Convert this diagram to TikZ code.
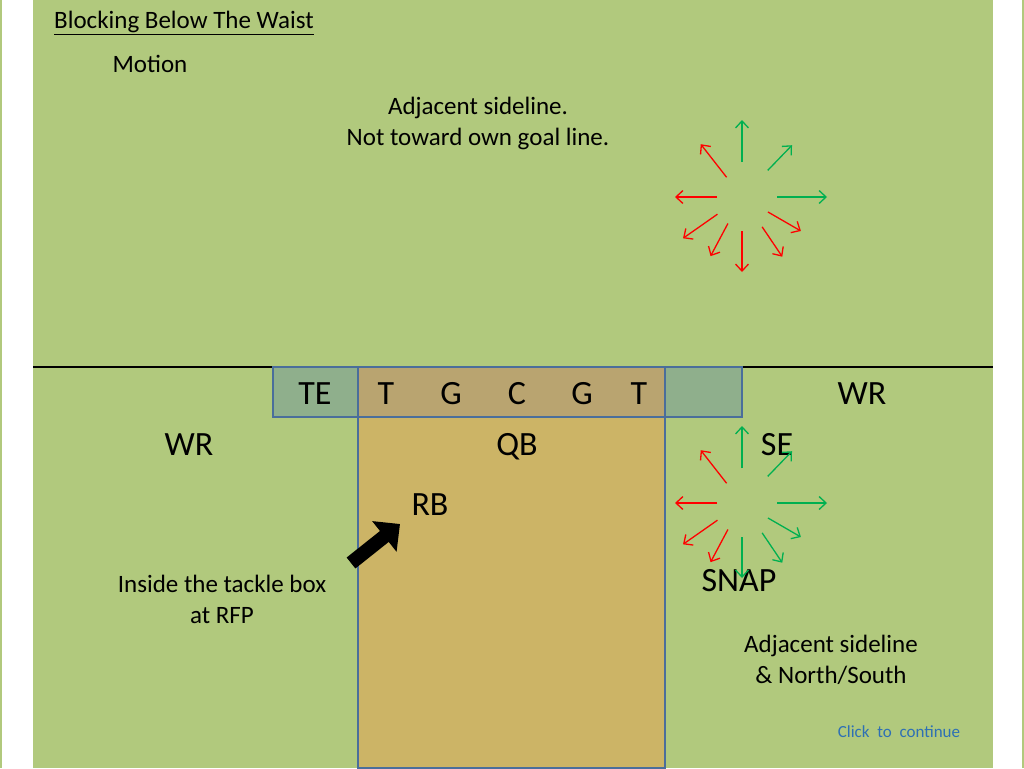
\documentclass[tikz,border=0pt]{standalone}
\usepackage{fontspec}
\setmainfont{Carlito}
\usetikzlibrary{positioning,arrows.meta}
\definecolor{field}{RGB}{177,201,125}
\definecolor{endbox}{RGB}{143,175,140}
\definecolor{linebox}{RGB}{185,164,112}
\definecolor{tacklebox}{RGB}{204,180,102}
\definecolor{boxline}{RGB}{74,110,155}
\definecolor{rayred}{RGB}{255,0,0}
\definecolor{raygreen}{RGB}{0,176,80}
\definecolor{linkblue}{RGB}{46,112,180}
\tikzset{player/.style={font=\fontsize{34}{40}\selectfont, inner sep=0pt, text height=22pt, text depth=0pt},
  note/.style={font=\fontsize{25}{31}\selectfont, align=center, inner sep=0pt, text height=16pt, text depth=0pt},
  box/.style={draw=boxline, line width=2.6pt},
  ray/.style={line width=1.3pt, -{Straight Barb[length=7pt,width=13pt]}}}

\begin{document}
\begin{tikzpicture}[x=1pt,y=-1pt]
        \useasboundingbox (0,0) rectangle (1024,768);
        \fill[white] (0,0) rectangle (1024,768);
        \fill[field] (33,0) rectangle (993,768);
        \draw[field, line width=1.5pt] (1,0) -- (1,768);
        \draw[field, line width=1.5pt] (1023,0) -- (1023,768);
        \draw[line width=1.5pt] (33,367) -- (993,367);
        % boxes
        \filldraw[box, fill=tacklebox] (358,417) rectangle (665,768);
        \filldraw[box, fill=endbox] (273,367) rectangle (358,417);
        \filldraw[box, fill=linebox] (358,367) rectangle (665,417);
        \filldraw[box, fill=endbox] (665,367) rectangle (742,417);
        % players
        \node[player] (te) at (315,393) {TE};
        \node[player] (lt) at (386,393) {T};
        \node[player] (lg) at (451,393) {G};
        \node[player] (c) at (517,393) {C};
        \node[player] (rg) at (582,393) {G};
        \node[player] (rt) at (639,393) {T};
        \node[player] (wrright) at (862,393) {WR};
        \node[player] (wrleft) at (189,444) {WR};
        \node[player] (qb) at (517,444) {QB};
        \node[player] (se) at (777,444) {SE};
        \node[player] (rb) at (430,504) {RB};
        \node[player] (snap) at (739,580) {SNAP};
        % notes
        \node[note, anchor=west] (title) at (54,21) {\underline{Blocking Below The Waist}};
        \node[note] (motion) at (150,64) {Motion};
        \node[note] (upnote) at (478,137.5) {Adjacent sideline.\\Not toward own goal line.};
        \node[note] (boxnote) at (222,615.5) {Inside the tackle box\\at RFP};
        \node[note] (snapnote) at (831,675.5) {Adjacent sideline\\\& North/South};
        \node[font=\fontsize{17}{20}\selectfont, text=linkblue] (click) at (899,732) {Click \ to \ continue};
        % allowed directions
        \coordinate (upper) at (742,197);
        \coordinate (lower) at (742,503);
        \foreach \a/\r/\R/\cu/\cl in {90/35/77/raygreen/raygreen, 46/37/72/raygreen/raygreen, 0/35/85/raygreen/raygreen,
            -30/30/68/rayred/raygreen, -56/36/72/rayred/raygreen, -90/34/75/rayred/raygreen,
            -118/30/67/rayred/rayred, -145/30/72/rayred/rayred, 180/25/67/rayred/rayred, 128/25/67/rayred/rayred}
        {
            \draw[ray, \cu] ([shift={(\a:\r pt)}]upper) -- ([shift={(\a:\R pt)}]upper);
            \draw[ray, \cl] ([shift={(\a:\r pt)}]lower) -- ([shift={(\a:\R pt)}]lower);
        }
        \draw[-{Triangle[width=38pt,length=20pt]}, line width=14pt, black] (351,563) -- (400,524);
\end{tikzpicture}
\end{document}
